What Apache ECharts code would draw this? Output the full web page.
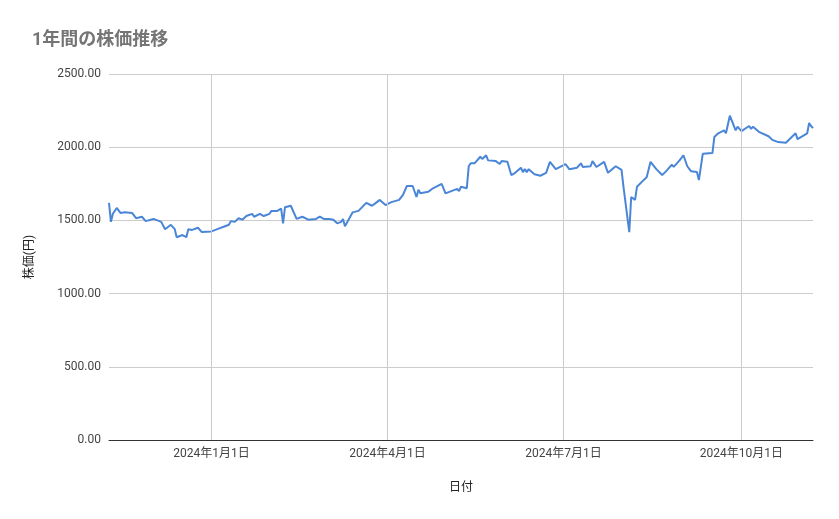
<!DOCTYPE html>
<html>
<head>
    <meta charset="UTF-8">
    <title>1年間の株価推移</title>
    <style>
        html, body { margin: 0; padding: 0; background: #fff; }
        #main { width: 839px; height: 519px; }
    </style>
</head>
<body>
<div id="main"></div>
<script src="https://cdn.jsdelivr.net/npm/echarts@6/dist/echarts.min.js"></script>
<script>
    // 日付と株価
    var dates = [
        '2023-11-09','2023-11-10','2023-11-11','2023-11-13','2023-11-15','2023-11-17','2023-11-21','2023-11-23',
        '2023-11-26','2023-11-28','2023-12-02','2023-12-06','2023-12-07','2023-12-08','2023-12-11','2023-12-13',
        '2023-12-14','2023-12-17','2023-12-19','2023-12-20','2023-12-22','2023-12-25','2023-12-27','2024-01-01',
        '2024-01-04','2024-01-08','2024-01-10','2024-01-11','2024-01-13','2024-01-15','2024-01-17','2024-01-19',
        '2024-01-22','2024-01-23','2024-01-26','2024-01-28','2024-01-31','2024-02-01','2024-02-04','2024-02-06',
        '2024-02-07','2024-02-08','2024-02-11','2024-02-14','2024-02-17','2024-02-20','2024-02-24','2024-02-26',
        '2024-02-28','2024-03-02','2024-03-04','2024-03-06','2024-03-08','2024-03-09','2024-03-10','2024-03-14',
        '2024-03-17','2024-03-21','2024-03-24','2024-03-26','2024-03-28','2024-03-31','2024-04-03','2024-04-07',
        '2024-04-09','2024-04-11','2024-04-14','2024-04-16','2024-04-17','2024-04-18','2024-04-22','2024-04-24',
        '2024-04-29','2024-05-01','2024-05-07','2024-05-08','2024-05-09','2024-05-12','2024-05-13','2024-05-14',
        '2024-05-16','2024-05-19','2024-05-20','2024-05-22','2024-05-23','2024-05-27','2024-05-29','2024-05-30',
        '2024-06-02','2024-06-04','2024-06-06','2024-06-09','2024-06-10','2024-06-11','2024-06-12','2024-06-13',
        '2024-06-16','2024-06-19','2024-06-22','2024-06-24','2024-06-27','2024-07-02','2024-07-04','2024-07-08',
        '2024-07-10','2024-07-11','2024-07-15','2024-07-16','2024-07-18','2024-07-22','2024-07-24','2024-07-28',
        '2024-07-31','2024-08-01','2024-08-04','2024-08-05','2024-08-07','2024-08-08','2024-08-11','2024-08-13',
        '2024-08-15','2024-08-18','2024-08-19','2024-08-21','2024-08-23','2024-08-24','2024-08-26','2024-08-27',
        '2024-08-30','2024-09-01','2024-09-02','2024-09-03','2024-09-05','2024-09-08','2024-09-09','2024-09-11',
        '2024-09-16','2024-09-17','2024-09-19','2024-09-22','2024-09-23','2024-09-25','2024-09-28','2024-09-29',
        '2024-10-01','2024-10-05','2024-10-06','2024-10-07','2024-10-10','2024-10-15','2024-10-17','2024-10-20',
        '2024-10-24','2024-10-29','2024-10-30','2024-11-04','2024-11-05','2024-11-06','2024-11-07'
    ];
    var prices = [
        1620,1490,1545,1585,1550,1555,1550,1515,
        1525,1495,1510,1490,1495,1440,1470,1440,
        1385,1400,1385,1440,1435,1450,1420,1425,
        1440,1460,1470,1495,1490,1515,1505,1530,
        1545,1525,1545,1530,1545,1565,1565,1580,
        1480,1590,1600,1510,1525,1505,1510,1525,
        1510,1510,1505,1480,1490,1510,1460,1555,
        1565,1620,1600,1620,1640,1605,1625,1640,
        1675,1735,1735,1660,1710,1685,1695,1715,
        1750,1685,1715,1700,1730,1720,1870,1890,
        1890,1935,1920,1945,1910,1905,1885,1905,
        1900,1810,1825,1860,1830,1850,1830,1850,
        1815,1805,1825,1900,1850,1885,1850,1860,
        1890,1865,1870,1905,1865,1900,1825,1870,
        1845,1730,1420,1660,1640,1730,1770,1795,
        1900,1850,1860,1810,1835,1850,1880,1865,
        1910,1945,1935,1870,1835,1830,1775,1955,
        1960,2070,2095,2115,2095,2215,2115,2140,
        2110,2145,2125,2140,2105,2075,2050,2035,
        2030,2095,2055,2095,2165,2145,2130
    ];
    var tickDates = ['2024-01-01', '2024-04-01', '2024-07-01', '2024-10-01'];
    var yTicks = [0, 500, 1000, 1500, 2000, 2500];

    var seriesData = dates.map(function (d, i) { return [d, prices[i]]; });
    var tickTimes = tickDates.map(function (d) { return +new Date(d + 'T00:00:00'); });

    var font = 'Roboto, "Noto Sans CJK JP", sans-serif';

    function fmtDate(v) {
        var d = new Date(v);
        return d.getFullYear() + '年' + (d.getMonth() + 1) + '月' + d.getDate() + '日';
    }

    var myChart = echarts.init(document.getElementById('main'));
    var option = {
        animation: false,
        title: {
            text: '1年間の株価推移',
            left: 27, top: 27,
            textStyle: { color: '#757575', fontSize: 18, fontWeight: 'bold', fontFamily: font }
        },
        grid: { left: 109, right: 26, top: 74, bottom: 79 },
        xAxis: {
            type: 'time',
            min: +new Date('2023-11-09T00:00:00'),
            max: +new Date('2024-11-07T00:00:00'),
            name: '日付',
            nameLocation: 'middle',
            nameGap: 42,
            nameTextStyle: { color: '#222', fontSize: 12, fontFamily: font },
            axisLine: { lineStyle: { color: '#333' } },
            axisTick: { show: false },
            splitLine: { show: false },
            axisLabel: { show: false }
        },
        yAxis: {
            type: 'value',
            min: 0, max: 2500, interval: 500,
            name: '株価(円)',
            nameLocation: 'middle',
            nameGap: 73,
            nameTextStyle: { color: '#222', fontSize: 12, fontFamily: font },
            axisLine: { show: false },
            axisTick: { show: false },
            splitLine: { lineStyle: { color: '#cccccc' } },
            axisLabel: {
                color: '#444', fontSize: 12, fontFamily: font, margin: 8,
                formatter: function (v) { return yTicks.indexOf(v) >= 0 ? v.toFixed(2) : ''; }
            }
        },
        series: [{
            type: 'line',
            data: seriesData,
            showSymbol: false,
            lineStyle: { color: '#4a86d8', width: 2 },
            itemStyle: { color: '#4a86d8' },
            markLine: {
                silent: true,
                symbol: 'none',
                label: {
                    show: true,
                    position: 'start',
                    distance: 8,
                    color: '#444', fontSize: 12, fontFamily: font,
                    formatter: function (p) { return fmtDate(p.value); }
                },
                lineStyle: { color: '#cccccc', type: 'solid', width: 1 },
                data: tickTimes.map(function (t) { return { xAxis: t }; })
            },
            z: 3
        }]
    };
    myChart.setOption(option);
</script>
</body>
</html>
